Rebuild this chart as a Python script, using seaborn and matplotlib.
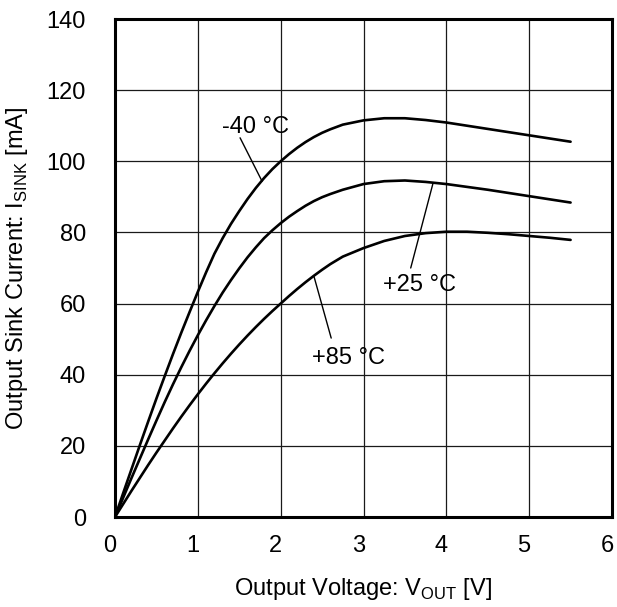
import matplotlib
matplotlib.use("Agg")
import matplotlib.pyplot as plt
import matplotlib.transforms as mtransforms
import seaborn as sns
import pandas as pd

voltage = [0.0, 0.1, 0.2, 0.3, 0.4, 0.5, 0.6, 0.7, 0.8, 0.9, 1.0, 1.1, 1.2, 1.3, 1.4, 1.5,
           1.6, 1.7, 1.8, 1.9, 2.0, 2.1, 2.2, 2.3, 2.4, 2.5, 2.6, 2.75, 3.0, 3.25, 3.5,
           3.75, 4.0, 4.25, 4.5, 4.75, 5.0, 5.25, 5.5]
i_m40 = [0, 6.8, 13.5, 20.2, 26.8, 33.3, 39.6, 45.8, 51.8, 57.6, 63.3, 68.8, 74.0, 78.4,
         82.4, 86.0, 89.4, 92.5, 95.3, 97.8, 100.0, 102.0, 103.8, 105.4, 106.8, 108.0,
         109.0, 110.3, 111.5, 112.1, 112.1, 111.6, 110.9, 110.0, 109.1, 108.2, 107.3,
         106.4, 105.5]
i_p25 = [0, 5.5, 11.0, 16.4, 21.8, 27.1, 32.3, 37.3, 42.1, 46.7, 51.1, 55.3, 59.3, 63.1,
         66.6, 69.9, 73.0, 75.8, 78.4, 80.6, 82.6, 84.4, 86.0, 87.5, 88.8, 89.9, 90.8,
         92.0, 93.6, 94.4, 94.6, 94.2, 93.6, 92.8, 92.0, 91.1, 90.2, 89.3, 88.4]
i_p85 = [0, 3.7, 7.4, 11.0, 14.6, 18.1, 21.5, 24.9, 28.2, 31.4, 34.5, 37.5, 40.4, 43.2,
         45.9, 48.5, 51.0, 53.4, 55.7, 57.9, 60.0, 62.1, 64.1, 66.0, 67.8, 69.5, 71.1,
         73.2, 75.6, 77.6, 79.0, 79.8, 80.2, 80.2, 79.9, 79.5, 79.0, 78.5, 77.9]
temps = ["-40 °C", "+25 °C", "+85 °C"]

x_ticks = [0, 1, 2, 3, 4, 5, 6]
y_ticks = [0, 20, 40, 60, 80, 100, 120, 140]

df = pd.concat([
    pd.DataFrame({"V": voltage, "I": vals, "T": t})
    for t, vals in zip(temps, [i_m40, i_p25, i_p85])
])

sns.set_theme(style="white")
plt.rcParams["font.family"] = ["Liberation Sans", "DejaVu Sans"]
plt.rcParams["mathtext.fontset"] = "custom"
plt.rcParams["mathtext.rm"] = "Liberation Sans"
plt.rcParams["text.color"] = "black"
plt.rcParams["axes.labelcolor"] = "black"
plt.rcParams["xtick.color"] = "black"
plt.rcParams["ytick.color"] = "black"

FS = 17
fig = plt.figure(figsize=(6.17, 6.07), dpi=100)
ax = fig.add_axes([115/617, 1-517/607, (612-115)/617, (517-19)/607])

sns.lineplot(data=df, x="V", y="I", hue="T", palette=["black"]*3,
             linewidth=1.9, legend=False, ax=ax, sort=False)

ax.set_xlim(0, 6)
ax.set_ylim(0, 140)
ax.set_xticks(x_ticks)
ax.set_yticks(y_ticks)
ax.set_xticklabels([str(v) for v in x_ticks], fontsize=FS, color="black")
ax.set_yticklabels([str(v) for v in y_ticks], fontsize=FS, color="black")
ax.tick_params(axis="both", length=0)
ax.tick_params(axis="x", pad=13)
ax.tick_params(axis="y", pad=21)
shift = mtransforms.ScaledTranslation(-5/100, 0, fig.dpi_scale_trans)
for lab in ax.get_xticklabels():
    lab.set_transform(lab.get_transform() + shift)
ax.grid(True, color="#1a1a1a", linewidth=0.9)
ax.set_axisbelow(True)
for s in ax.spines.values():
    s.set_color("black")
    s.set_linewidth(2.2)

ax.set_xlabel(r"Output Voltage: V$_{\mathregular{OUT}}$ [V]", fontsize=FS, color="black")
ax.set_ylabel(r"Output Sink Current: I$_{\mathregular{SINK}}$ [mA]", fontsize=FS, color="black")
ax.xaxis.set_label_coords(0.5, -0.118)
ax.yaxis.set_label_coords(-0.172, 0.5)

labels = [
    ("-40 °C", (1.70, 109.7), (1.51, 106.6), (1.775, 94.4)),
    ("+25 °C", (3.68, 65.2), (3.57, 70.0), (3.84, 93.9)),
    ("+85 °C", (2.82, 44.7), (2.61, 50.3), (2.40, 67.8)),
]
for txt, pos, start, end in labels:
    ax.text(pos[0], pos[1], txt, fontsize=FS, ha="center", va="center", color="black")
    ax.annotate("", xy=end, xytext=start,
                arrowprops=dict(arrowstyle="-", lw=1.0, color="black",
                                shrinkA=0, shrinkB=0))

fig.savefig("out.png", dpi=100)
